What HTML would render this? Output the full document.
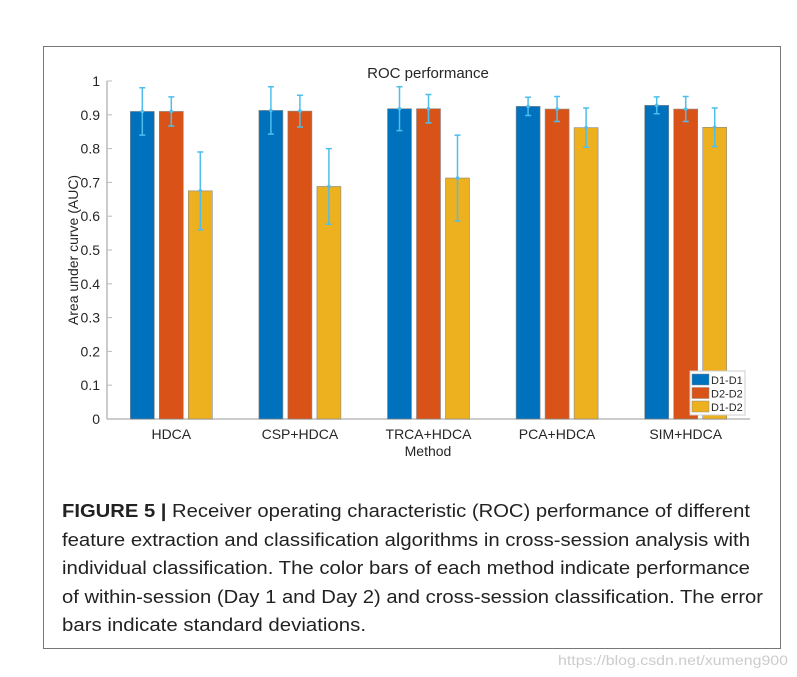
<!DOCTYPE html>
<html><head><meta charset="utf-8"><style>
body{margin:0;background:#fff;width:797px;height:677px;overflow:hidden;font-family:"Liberation Sans",sans-serif;}
#frame{position:absolute;left:43px;top:46px;width:738px;height:603px;border:1px solid #777;box-sizing:border-box;}
</style></head><body>
<div id="frame"></div>
<svg id="chart" width="797" height="480" style="position:absolute;left:0;top:0" font-family="Liberation Sans, sans-serif"></svg>
<svg width="797" height="197" style="position:absolute;left:0;top:480px" font-family="Liberation Sans, sans-serif" font-size="18.5" fill="#222">
<text x="62" y="37" textLength="688" lengthAdjust="spacingAndGlyphs"><tspan font-weight="bold">FIGURE 5 |</tspan> Receiver operating characteristic (ROC) performance of different</text>
<text x="62" y="66" textLength="688" lengthAdjust="spacingAndGlyphs">feature extraction and classification algorithms in cross-session analysis with</text>
<text x="62" y="94" textLength="688" lengthAdjust="spacingAndGlyphs">individual classification. The color bars of each method indicate performance</text>
<text x="62" y="123" textLength="701" lengthAdjust="spacingAndGlyphs">of within-session (Day 1 and Day 2) and cross-session classification. The error</text>
<text x="62" y="151" textLength="304" lengthAdjust="spacingAndGlyphs">bars indicate standard deviations.</text>
<text x="788" y="185" text-anchor="end" font-size="14" fill="#ccc" textLength="230" lengthAdjust="spacingAndGlyphs">https://blog.csdn.net/xumeng900</text>
</svg>
<script>
const categories=["HDCA","CSP+HDCA","TRCA+HDCA","PCA+HDCA","SIM+HDCA"];
const seriesNames=["D1-D1","D2-D2","D1-D2"];
const d1d1=[0.910,0.913,0.918,0.925,0.928];
const d2d2=[0.910,0.911,0.918,0.917,0.917];
const d1d2=[0.675,0.688,0.713,0.862,0.863];
const sd1d1=[0.070,0.070,0.065,0.027,0.025];
const sd2d2=[0.043,0.047,0.042,0.037,0.037];
const sd1d2=[0.115,0.112,0.127,0.058,0.057];
const yTicks=["0","0.1","0.2","0.3","0.4","0.5","0.6","0.7","0.8","0.9","1"];
const colors=["#0072BD","#D95319","#EDB120"];
const X0=107,X1=750,Y0=419,Y1=81;
const svg=document.getElementById('chart');
const NS="http://www.w3.org/2000/svg";
function y(v){return Y0-(v)*(Y0-Y1);}
function xc(i){return X0+(i+0.5)*(X1-X0)/categories.length;}
function mk(t,a,p){const e=document.createElementNS(NS,t);for(const k in a)e.setAttribute(k,a[k]);(p||svg).appendChild(e);return e;}
let e;
e=mk('line',{x1:X0,y1:Y0,x2:X1,y2:Y0,stroke:'#bbb','stroke-width':1.5});


e=mk('line',{x1:X0,y1:Y0,x2:X0,y2:Y1,stroke:'#bbb','stroke-width':1.5});


yTicks.forEach(t=>{const v=parseFloat(t);
 mk('line',{x1:X0,y1:y(v),x2:X0+5,y2:y(v),stroke:'#bbb'});
 e=mk('text',{x:X0-7,y:y(v)+5,'text-anchor':'end','font-size':14,fill:'#262626'});e.textContent=t;
 
 
});
const series=[d1d1,d2d2,d1d2],sds=[sd1d1,sd2d2,sd1d2];
const bw=24,step=29;
categories.forEach((c,i)=>{
 e=mk('text',{x:xc(i),y:Y0+20,'text-anchor':'middle','font-size':14,fill:'#262626'});e.textContent=c;
 
 
 series.forEach((s,j)=>{
  const cx=xc(i)+(j-1)*step;
  e=mk('rect',{x:cx-bw/2,y:y(s[i]),width:bw,height:Y0-y(s[i]),fill:colors[j],stroke:'#888','stroke-width':0.6});
  
  
 });
 series.forEach((s,j)=>{
  const cx=xc(i)+(j-1)*step,lo=y(s[i]-sds[j][i]),hi=y(s[i]+sds[j][i]);
  e=mk('path',{d:`M${cx},${lo}V${hi}M${cx-3},${lo}H${cx+3}M${cx-3},${hi}H${cx+3}`,stroke:'#4DBEEE','stroke-width':1.5,fill:'none'});
  
  
  mk('circle',{cx:cx,cy:y(s[i]),r:1.8,fill:'#4DBEEE'});
 });
});
e=mk('text',{x:428,y:78,'text-anchor':'middle','font-size':15,fill:'#262626'});e.textContent='ROC performance';


e=mk('text',{x:428,y:456,'text-anchor':'middle','font-size':14,fill:'#262626'});e.textContent='Method';


e=mk('text',{x:0,y:0,'text-anchor':'middle','font-size':14,fill:'#262626',transform:'translate(78,250) rotate(-90)'});e.textContent='Area under curve (AUC)';


const lg=mk('g',{});


mk('rect',{x:690,y:371,width:55,height:44,fill:'#fff',stroke:'#ccc'},lg);
seriesNames.forEach((n,j)=>{
 mk('rect',{x:692,y:374+j*13.5,width:17,height:11,fill:colors[j],stroke:'#888','stroke-width':0.5},lg);
 const t=mk('text',{x:711,y:384+j*13.5,'font-size':11,fill:'#262626'},lg);t.textContent=n;
 
 
});
</script>
</body></html>
